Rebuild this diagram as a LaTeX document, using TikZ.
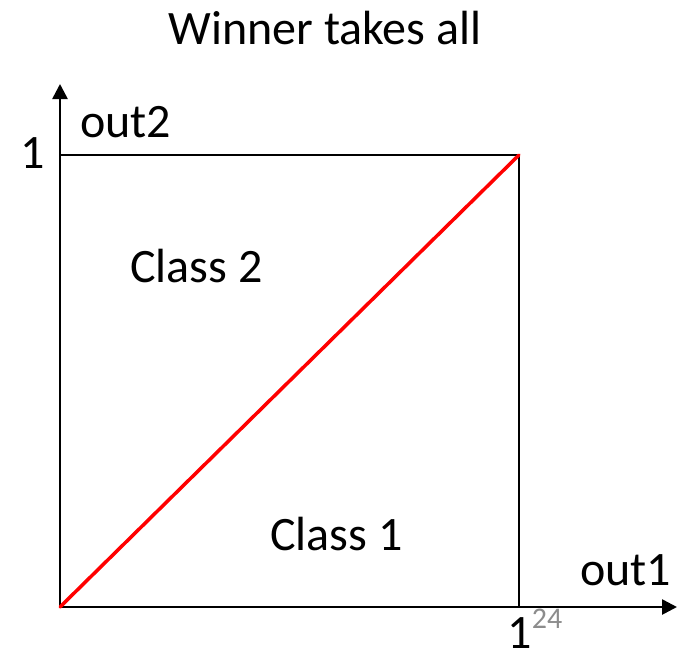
\documentclass[tikz,border=0pt]{standalone}
\usepackage{fontspec}
\setmainfont{Carlito}
\usepackage{xcolor}
\usetikzlibrary{arrows.meta,positioning}
\definecolor{slidegray}{HTML}{8C8C8C}

\begin{document}
\begin{tikzpicture}[x=1pt,y=-1pt,font=\fontsize{48}{56}\selectfont,
  lbl/.style={inner sep=0pt,anchor=base west},
  axis/.style={-{Triangle[length=15pt,width=15pt]},line width=2.6pt},
  edge/.style={line width=2pt},
  split/.style={red,line width=3.5pt}]
\useasboundingbox (0,0) rectangle (677,657);
\coordinate (o) at (60,607);
\coordinate (xend) at (677,607);
\coordinate (yend) at (60,84);
\coordinate (tr) at (519,155);
\coordinate (tl) at (60,155);
\coordinate (br) at (519,607);
% axes and unit square
\draw[edge] (tl) -- (tr) -- (br);
\draw[axis] (o) -- (xend);
\draw[axis] (o) -- (yend);
\draw[split,line cap=round] (o) -- (tr);
% labels
\node[inner sep=0pt,anchor=base] (title) at (325,44) {Winner takes all};
\node[lbl] (out2) at (80,137) {out2};
\node[lbl] (one2) at (20,168) {1};
\node[lbl] (c2) at (130,282) {Class 2};
\node[lbl] (c1) at (270,550) {Class 1};
\node[lbl] (out1) at (580,585) {out1};
\node[lbl] (one1) at (507,648) {1};
\node[lbl,right=0pt of one1.north east,anchor=north west,yshift=8pt,text=slidegray,font=\fontsize{30}{34}\selectfont] (pg) {24};
\end{tikzpicture}
\end{document}
